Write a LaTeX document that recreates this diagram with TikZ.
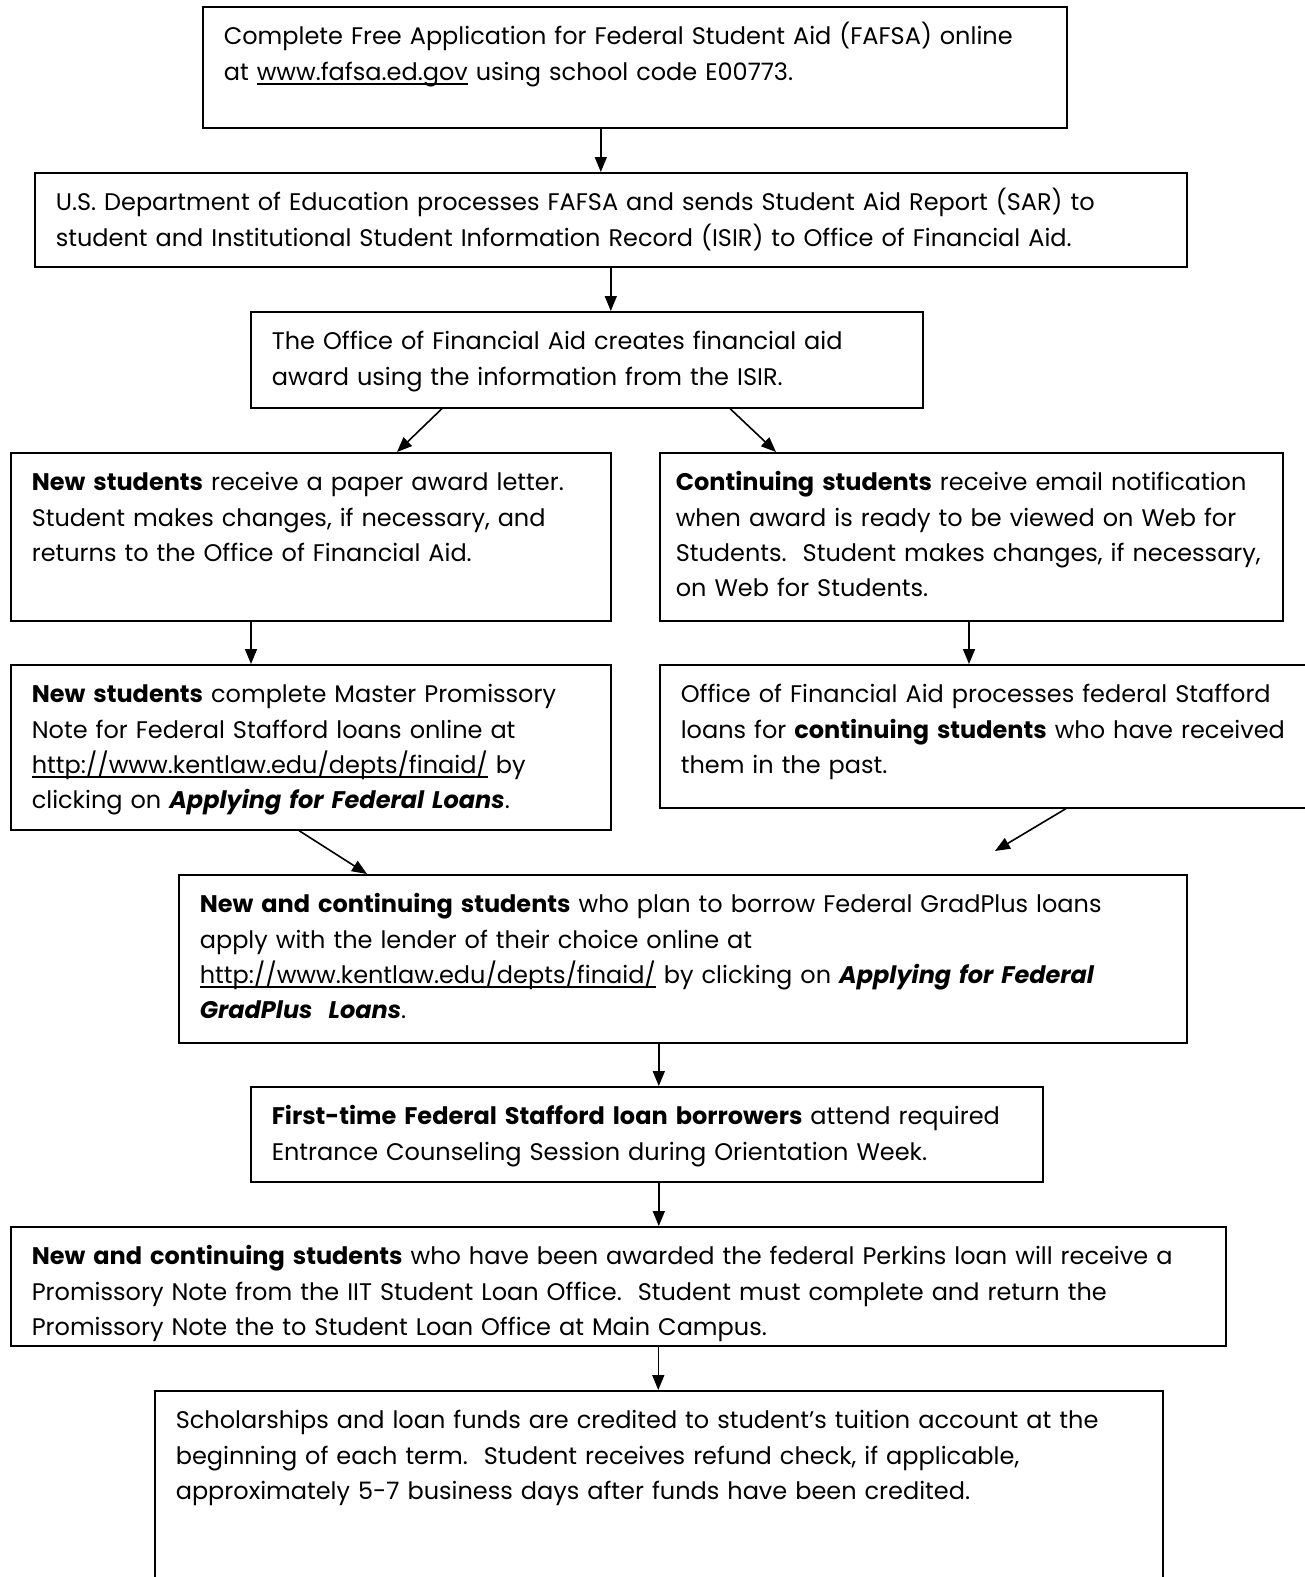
\documentclass[tikz,border=0pt]{standalone}
\usepackage{fontspec}
\setmainfont{Poppins}
\usetikzlibrary{arrows.meta,positioning}

% underline that crosses the descenders, as in the scan
\newsavebox\linkbox
\newcommand\linkline[1]{\leavevmode\sbox\linkbox{#1}%
 \rlap{\vrule width\wd\linkbox height -3pt depth 4.8pt}\usebox\linkbox}

\begin{document}
\begin{tikzpicture}[x=1pt,y=-1pt,>={Triangle[length=15pt,width=12pt]},
 box/.style={draw,line width=1.6pt,anchor=north west,align=left,
 inner xsep=21pt,inner ysep=8pt,text height=30pt,
 font=\fontsize{24}{35.2}\selectfont},
 link/.style={->,line width=1.6pt}]
\useasboundingbox (0,0) rectangle (1304,1577);
\node[box,text width=822pt,text depth=75pt] (fafsa) at (202,6)
 {Complete Free Application for Federal Student Aid (FAFSA) online\\
 at \linkline{www.fafsa.ed.gov} using school code E00773.};
\node[box,text width=1110pt,text depth=48pt] (usdoe) at (34,172)
 {U.S. Department of Education processes FAFSA and sends Student Aid Report (SAR) to\\
 student and Institutional Student Information Record (ISIR) to Office of Financial Aid.};
\node[box,text width=630pt,text depth=50pt] (award) at (250,311)
 {The Office of Financial Aid creates financial aid\\
 award using the information from the ISIR.};
\node[box,text width=558pt,text depth=122pt] (newletter) at (10,452)
 {\textbf{New students} receive a paper award letter.\\
 Student makes changes, if necessary, and\\
 returns to the Office of Financial Aid.};
\node[box,inner xsep=16pt,text width=591pt,text depth=122pt] (contmail) at (659,452)
 {\textbf{Continuing students} receive email notification\\
 when award is ready to be viewed on Web for\\
 Students.\ \ Student makes changes, if necessary,\\
 on Web for Students.};
\node[box,text width=558pt,text depth=119pt] (newnote) at (10,664)
 {\textbf{New students} complete Master Promissory\\
 Note for Federal Stafford loans online at\\
 \linkline{http://www.kentlaw.edu/depts/finaid/} by\\
 clicking on \textbf{\textit{Applying for Federal Loans}}.};
\node[box,text width=609pt,text depth=97pt] (contloan) at (659,664)
 {Office of Financial Aid processes federal Stafford\\
 loans for \textbf{continuing students} who have received\\
 them in the past.};
\node[box,text width=966pt,text depth=122pt] (gradplus) at (178,874)
 {\textbf{New and continuing students} who plan to borrow Federal GradPlus loans\\
 apply with the lender of their choice online at\\
 \linkline{http://www.kentlaw.edu/depts/finaid/} by clicking on \textbf{\textit{Applying for Federal}}\\
 \textbf{\textit{GradPlus\ \ Loans}}.};
\node[box,text width=750pt,text depth=49pt] (entrance) at (250,1086)
 {\textbf{First-time Federal Stafford loan borrowers} attend required\\
 Entrance Counseling Session during Orientation Week.};
\node[box,text width=1173pt,text depth=73pt] (perkins) at (10,1226)
 {\textbf{New and continuing students} who have been awarded the federal Perkins loan will receive a\\
 Promissory Note from the IIT Student Loan Office.\ \ Student must complete and return the\\
 Promissory Note the to Student Loan Office at Main Campus.};
\node[box,text width=966pt,text depth=154pt] (funds) at (154,1390)
 {Scholarships and loan funds are credited to student’s tuition account at the\\
 beginning of each term.\ \ Student receives refund check, if applicable,\\
 approximately 5-7 business days after funds have been credited.};
\coordinate (meet) at (995,851);
% arrows
\draw[link] ([xshift=-34pt]fafsa.south) -- ([xshift=-34pt]fafsa.south |- usdoe.north);
\draw[link] (usdoe.south) -- (usdoe.south |- award.north);
\draw[link] ([xshift=192pt]award.south west) -- ([xshift=387pt]newletter.north west);
\draw[link] ([xshift=480pt]award.south west) -- ([xshift=117pt]contmail.north west);
\draw[link] ([xshift=241pt]newletter.south west) -- ([xshift=241pt]newletter.south west |- newnote.north);
\draw[link] ([xshift=310pt]contmail.south west) -- ([xshift=310pt]contmail.south west |- contloan.north);
\draw[link] ([xshift=289pt]newnote.south west) -- ([xshift=189pt]gradplus.north west);
\draw[link] ([xshift=407pt]contloan.south west) -- (meet);
\draw[link] ([xshift=-24pt]gradplus.south) -- ([xshift=-24pt]gradplus.south |- entrance.north);
\draw[link] ([xshift=12pt]entrance.south) -- ([xshift=12pt]entrance.south |- perkins.north);
\draw[link] ([xshift=40pt]perkins.south) -- ([xshift=40pt]perkins.south |- funds.north);
\end{tikzpicture}
\end{document}
